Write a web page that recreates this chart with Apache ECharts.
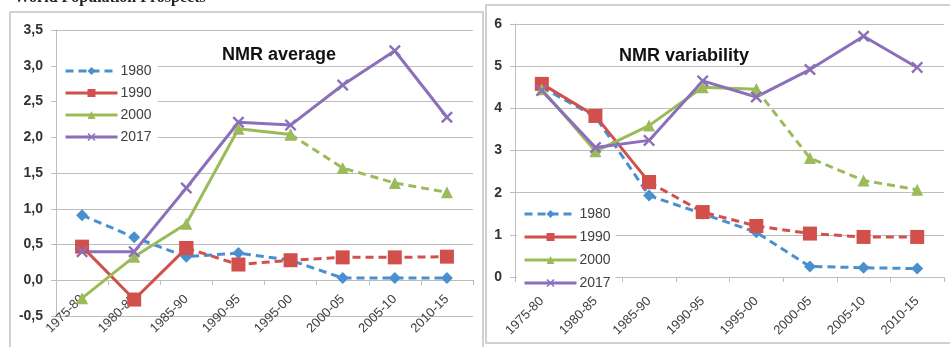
<!DOCTYPE html>
<html>
<head>
<meta charset="utf-8">
<script src="https://cdn.jsdelivr.net/npm/echarts@6/dist/echarts.min.js"></script>
<style>
  html, body { margin: 0; padding: 0; background: #fff; }
  #main { width: 950px; height: 347px; }
</style>
</head>
<body>
<div id="main"></div>
<script>
// periods on the x axis
const periods = ['1975-80', '1980-85', '1985-90', '1990-95', '1995-00', '2000-05', '2005-10', '2010-15'];
const seriesNames = ['1980', '1990', '2000', '2017'];

// NMR average (left panel)
const avg1980 = [0.91, 0.60, 0.33, 0.38, 0.28, 0.03, 0.03, 0.03];
const avg1990 = [0.47, -0.27, 0.45, 0.22, 0.28, 0.32, 0.32, 0.33];
const avg2000 = [-0.25, 0.33, 0.79, 2.12, 2.04, 1.57, 1.36, 1.23];
const avg2017 = [0.40, 0.40, 1.29, 2.21, 2.17, 2.73, 3.21, 2.28];

// NMR variability (right panel)
const var1980 = [4.50, 3.80, 1.93, 1.50, 1.06, 0.25, 0.22, 0.20];
const var1990 = [4.58, 3.82, 2.25, 1.54, 1.21, 1.03, 0.95, 0.95];
const var2000 = [4.45, 2.98, 3.59, 4.50, 4.45, 2.82, 2.29, 2.07];
const var2017 = [4.42, 3.07, 3.24, 4.65, 4.27, 4.92, 5.71, 4.97];

// last index drawn with a solid line (later points are dashed)
const solidEnd1990 = 2;
const solidEnd2000 = 4;

const colors = { '1980': '#4a8fcf', '1990': '#d1504c', '2000': '#9bbb59', '2017': '#8b6fbb' };
const xMark = 'path://M0,1.4L1.4,0L5,3.6L8.6,0L10,1.4L6.4,5L10,8.6L8.6,10L5,6.4L1.4,10L0,8.6L3.6,5Z';
const symbols = { '1980': 'diamond', '1990': 'rect', '2000': 'triangle', '2017': xMark };
const symSize = { '1980': 12, '1990': 14, '2000': 12, '2017': 12 };
const fontFam = '"Liberation Sans", Arial, sans-serif';

function part(arr, from, to) {
  return arr.map((v, i) => (i >= from && i <= to ? v : null));
}

function line(name, data, gi, dashed, legendName) {
  return {
    name: legendName === false ? name + ' ' : name,
    type: 'line',
    xAxisIndex: gi,
    yAxisIndex: gi,
    data: data,
    symbol: symbols[name],
    symbolSize: symSize[name],
    showAllSymbol: true,
    connectNulls: false,
    animation: false,
    color: colors[name],
    lineStyle: { width: 3, type: dashed ? [8, 5] : 'solid', color: colors[name] },
    itemStyle: { color: colors[name], borderWidth: 0 },
    z: 2
  };
}

function panel(d1980, d1990, d2000, d2017, gi) {
  return [
    line('1980', d1980, gi, true),
    line('1990', part(d1990, 0, solidEnd1990), gi, false),
    line('1990', part(d1990, solidEnd1990, 7), gi, true, false),
    line('2000', part(d2000, 0, solidEnd2000), gi, false),
    line('2000', part(d2000, solidEnd2000, 7), gi, true, false),
    line('2017', d2017, gi, false)
  ];
}

// offset moves the category axis up to the zero line of the left panel
function xAxis(gi, offset, margin) {
  return {
    type: 'category',
    gridIndex: gi,
    data: periods,
    offset: offset,
    axisLine: { onZero: false, lineStyle: { color: '#bdbdbd', width: 1 } },
    axisTick: { show: true, length: 5, lineStyle: { color: '#bdbdbd' } },
    axisLabel: { rotate: 45, margin: margin, interval: 0, fontSize: 13, color: '#404040', fontFamily: fontFam }
  };
}

function yAxis(gi, min, max, step, fmt) {
  return {
    type: 'value',
    gridIndex: gi,
    min: min, max: max, interval: step,
    axisLine: { show: true, lineStyle: { color: '#bdbdbd', width: 1 } },
    axisTick: { show: true, length: 5, lineStyle: { color: '#bdbdbd' } },
    splitLine: { lineStyle: { color: '#bdbdbd', width: 1 } },
    axisLabel: { fontSize: 14, color: '#333', fontWeight: 'bold', fontFamily: fontFam, margin: 13, formatter: fmt }
  };
}

function legend(left, top, gap, pad) {
  return {
    orient: 'vertical',
    left: left, top: top,
    data: seriesNames,
    itemWidth: 52, itemHeight: 10, itemGap: gap,
    padding: pad,
    backgroundColor: '#fff',
    selectedMode: false,
    lineStyle: { width: 3 },
    textStyle: { fontSize: 14, color: '#404040', fontFamily: fontFam, padding: [0, 0, 0, -2] }
  };
}

const myechart = echarts.init(document.getElementById('main'));
const option = {
  animation: false,
  grid: [
    { left: 56, right: 477, top: 30, bottom: 31 },
    { left: 515, right: 6, top: 24, bottom: 70 }
  ],
  xAxis: [xAxis(0, -36, 17), xAxis(1, 0, 22)],
  yAxis: [
    yAxis(0, -0.5, 3.5, 0.5, v => v.toFixed(1).replace('.', ',')),
    yAxis(1, 0, 6, 1, v => String(v))
  ],
  legend: [legend(57, 58, 8, [6, 6, 6, 7]), legend(517, 201, 9, [6, 5, 0, 6])],
  title: [
    { text: 'NMR average', left: 217, top: 41, textStyle: { fontSize: 18, fontWeight: 'bold', color: '#111', fontFamily: fontFam } },
    { text: 'NMR variability', left: 614, top: 42, textStyle: { fontSize: 18, fontWeight: 'bold', color: '#111', fontFamily: fontFam } }
  ],
  graphic: [
    { type: 'rect', shape: { x: 10, y: 12, width: 473, height: 360 }, style: { fill: 'none', stroke: '#c4c4c4', lineWidth: 1.5 }, z: -1 },
    { type: 'rect', shape: { x: 486, y: 5, width: 466, height: 338 }, style: { fill: 'none', stroke: '#c4c4c4', lineWidth: 1.5 }, z: -1 },
    { type: 'text', left: 14, top: -10, style: { text: 'World Population Prospects', font: 'bold 16px "Liberation Serif", serif', fill: '#222' } }
  ],
  series: [].concat(panel(avg1980, avg1990, avg2000, avg2017, 0), panel(var1980, var1990, var2000, var2017, 1))
};
myechart.setOption(option);
</script>
</body>
</html>
